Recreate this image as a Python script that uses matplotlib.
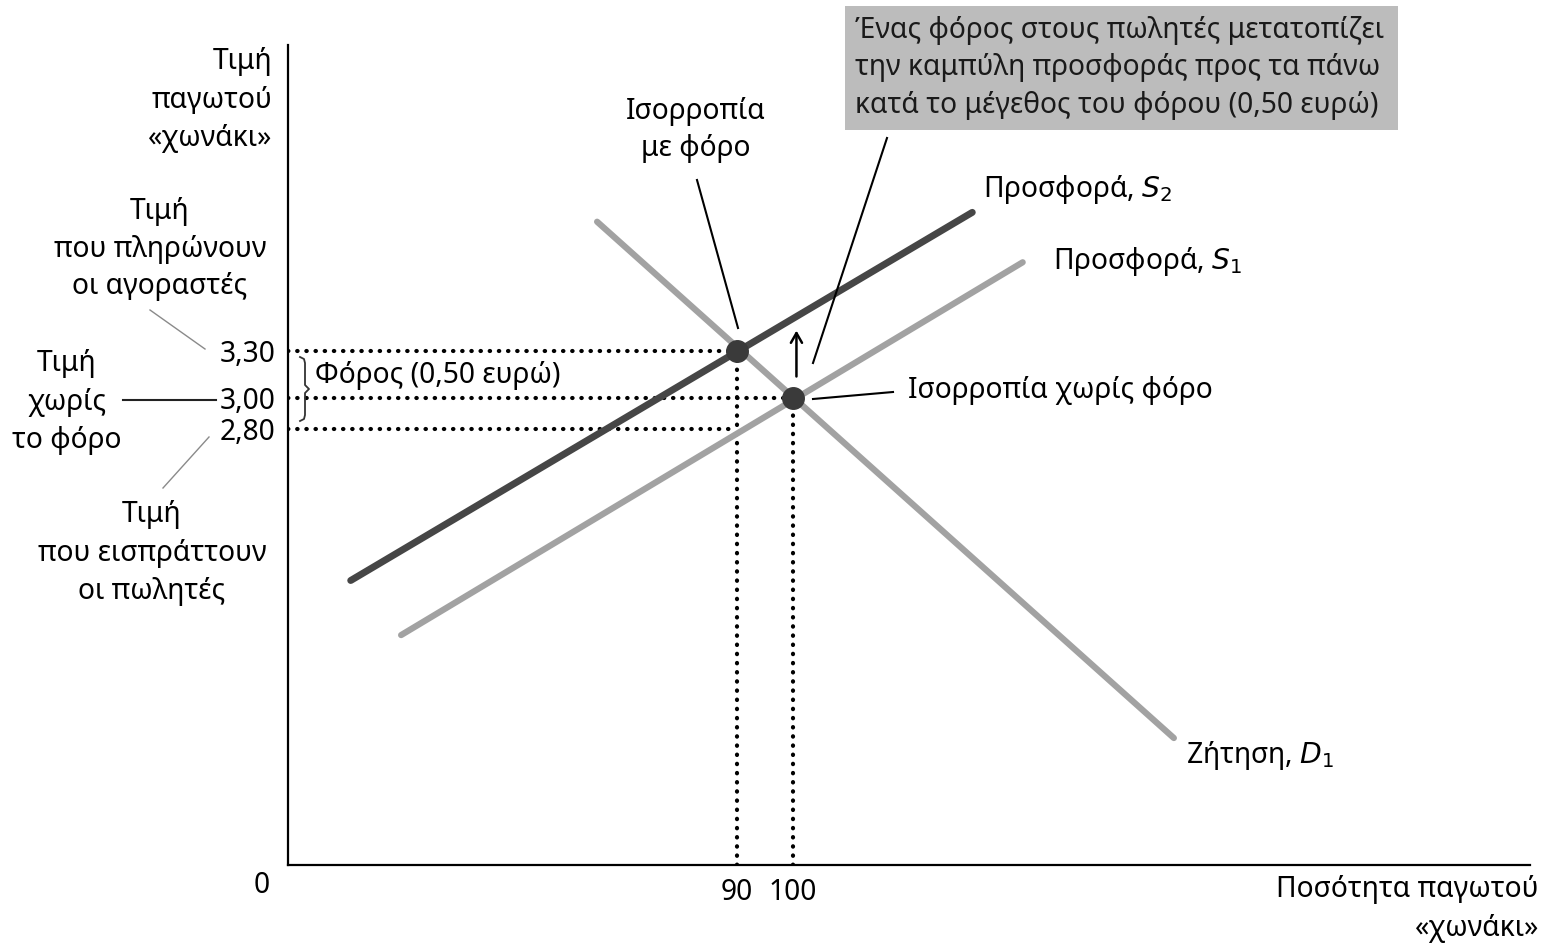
import numpy as np
import matplotlib.pyplot as plt
from matplotlib.lines import Line2D
from matplotlib.patches import Rectangle

plt.rcParams['font.family'] = ['Noto Sans', 'DejaVu Sans']
plt.rcParams['mathtext.fontset'] = 'dejavusans'

# curve end points (quantity, price)
s2_q = [21, 132]
s2_p = [1.83, 4.19]
s1_q = [30, 141]
s1_p = [1.48, 3.87]
d1_q = [65, 168]
d1_p = [4.13, 0.82]

# equilibria
eq_q = [90, 100]
eq_p = [3.30, 3.00]
p_seller = 2.80

price_ticks = [3.30, 3.00, 2.80]
price_labels = ['3,30', '3,00', '2,80']
qty_ticks = [90, 100]
qty_labels = ['90', '100']

W, H = 1548, 947
FS = 20.3


def fx(x):
    return x / W


def fy(y):
    return 1 - y / H


def fline(xs, ys, color='black', lw=1.3):
    fig.add_artist(Line2D([fx(x) for x in xs], [fy(y) for y in ys],
                          transform=fig.transFigure, color=color, lw=lw))


fig = plt.figure(figsize=(W / 100, H / 100), dpi=100)
ax = fig.add_axes([fx(288), fy(865), (1530 - 288) / W, (865 - 45) / H])
ax.patch.set_alpha(0)
ax.set_xlim(9.8, 231.6)
ax.set_ylim(0.006, 5.263)
for s in ['top', 'right']:
    ax.spines[s].set_visible(False)
for s in ['left', 'bottom']:
    ax.spines[s].set_linewidth(1.6)

ax.set_yticks(price_ticks, price_labels, fontsize=FS)
ax.set_xticks(qty_ticks, qty_labels, fontsize=FS)
ax.tick_params(axis='y', length=0, pad=9)
ax.tick_params(axis='x', length=0, pad=9)

# dotted guides
dot = dict(color='black', lw=3.0, linestyle=(0, (0.1, 2.1)), dash_capstyle='round')
ax.plot([9.8, eq_q[0]], [eq_p[0], eq_p[0]], **dot)
ax.plot([9.8, eq_q[1]], [eq_p[1], eq_p[1]], **dot)
ax.plot([9.8, eq_q[0]], [p_seller, p_seller], **dot)
ax.plot([eq_q[0], eq_q[0]], [0.006, eq_p[0]], **dot)
ax.plot([eq_q[1], eq_q[1]], [0.006, eq_p[1]], **dot)

# curves
ax.plot(s1_q, s1_p, color='#a2a2a2', lw=4.5, solid_capstyle='round')
ax.plot(d1_q, d1_p, color='#a2a2a2', lw=4.5, solid_capstyle='round')
ax.plot(s2_q, s2_p, color='#464646', lw=5, solid_capstyle='round')
ax.plot(eq_q, eq_p, 'o', color='#3a3a3a', markersize=15.5)

# tax arrow
ax.annotate('', xy=(100.6, 3.45), xytext=(100.6, 3.12),
            arrowprops=dict(arrowstyle='->,head_length=0.7,head_width=0.4',
                            color='black', lw=1.8))

fig.text(fx(262), fy(885), '0', fontsize=FS, ha='center', va='center')

# left side labels
fig.text(fx(272), fy(100), 'Τιμή\nπαγωτού\n«χωνάκι»', fontsize=FS,
         ha='right', va='center', multialignment='right', linespacing=1.45)
fig.text(fx(160), fy(249), 'Τιμή\nπου πληρώνουν\nοι αγοραστές', fontsize=FS,
         ha='center', va='center', multialignment='center', linespacing=1.4)
fig.text(fx(67), fy(402), 'Τιμή\nχωρίς\nτο φόρο', fontsize=FS,
         ha='center', va='center', multialignment='center', linespacing=1.45)
fig.text(fx(152), fy(553), 'Τιμή\nπου εισπράττουν\nοι πωλητές', fontsize=FS,
         ha='center', va='center', multialignment='center', linespacing=1.45)
fline([150, 205], [310, 349], color='#8a8a8a', lw=1)
fline([123, 216], [400, 400], color='#222222', lw=1.5)
fline([209, 163], [437, 488], color='#8a8a8a', lw=1)

# tax brace
fline([300, 304, 305, 305, 309, 305, 305, 304, 300],
      [357, 359, 363, 385, 389, 393, 415, 419, 421], color='#333333', lw=1.3)
fig.text(fx(315), fy(375), 'Φόρος (0,50 ευρώ)', fontsize=FS, ha='left', va='center')

# equilibrium notes
fig.text(fx(696), fy(130), 'Ισορροπία\nμε φόρο', fontsize=FS, ha='center',
         va='center', multialignment='center', linespacing=1.35)
fline([697, 738], [180, 328], lw=1.5)
fig.text(fx(908), fy(390), 'Ισορροπία χωρίς φόρο', fontsize=FS, ha='left', va='center')
fline([813, 893], [399, 392], lw=1.5)

# shaded note box
fig.add_artist(Rectangle((fx(845), fy(130)), (1398 - 845) / W, (130 - 6) / H,
                         transform=fig.transFigure, facecolor='#bcbcbc',
                         edgecolor='none', zorder=0.5))
fig.text(fx(855), fy(68), 'Ένας φόρος στους πωλητές μετατοπίζει\n'
         'την καμπύλη προσφοράς προς τα πάνω\n'
         'κατά το μέγεθος του φόρου (0,50 ευρώ)', fontsize=FS,
         ha='left', va='center', linespacing=1.4, color='#1a1a1a')
fline([887, 813], [138, 363], lw=1.5)

# curve labels
fig.text(fx(983), fy(190), 'Προσφορά, $S_2$', fontsize=FS, ha='left', va='center')
fig.text(fx(1053), fy(262), 'Προσφορά, $S_1$', fontsize=FS, ha='left', va='center')
fig.text(fx(1186), fy(755), 'Ζήτηση, $D_1$', fontsize=FS, ha='left', va='center')

fig.text(fx(1539), fy(909), 'Ποσότητα παγωτού\n«χωνάκι»', fontsize=FS,
         ha='right', va='center', multialignment='right', linespacing=1.45)

fig.savefig('out.png', dpi=100)
